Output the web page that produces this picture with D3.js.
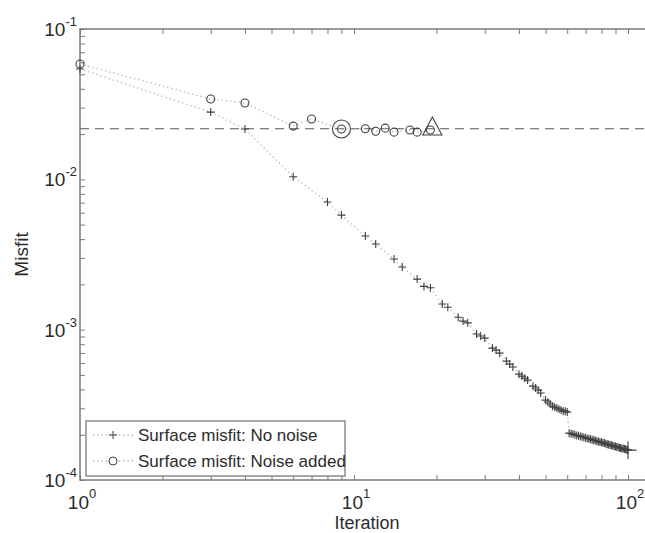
<!DOCTYPE html>
<html>
<head>
<meta charset="utf-8">
<script src="https://cdn.jsdelivr.net/npm/d3@7"></script>
<style>
  body { margin: 0; background: #fff; }
  text { font-family: Arial, "Liberation Sans", Helvetica, sans-serif; fill: #2b2b2b; }
</style>
</head>
<body>
<div id="chart-div"></div>
<script>
// values (iteration, misfit)
const iterNoNoise = [1, 3, 4, 6, 8, 9, 11, 12, 14, 15, 17, 18, 19, 21, 22, 24, 25, 26, 28, 29, 30,
  32, 33, 34, 36, 37, 38, 40, 41, 42, 43, 45, 46, 47, 48, 50, 51, 52, 53, 54, 55, 56, 57, 58, 59, 60,
  61, 62, 63, 64, 65, 66, 67, 68, 69, 70, 71, 72, 73, 74, 75, 76, 77, 78, 79, 80,
  81, 82, 83, 84, 85, 86, 87, 88, 89, 90, 91, 92, 93, 94, 95, 96, 97, 98, 99, 100]
const misfitNoNoise = [0.0542, 0.0280, 0.0216, 0.0104, 0.00706, 0.00578, 0.00420, 0.00371, 0.00295, 0.00261,
  0.00217, 0.00194, 0.00190, 0.00148, 0.00141, 0.00121, 0.00114, 0.00111, 0.000935, 0.000907, 0.000879,
  0.000754, 0.000731, 0.000698, 0.000618, 0.000590, 0.000564, 0.000506, 0.000491, 0.000476, 0.000462,
  0.000421, 0.000409, 0.000396, 0.000379, 0.000340, 0.000330, 0.000320, 0.000310, 0.000305, 0.000301,
  0.000296, 0.000292, 0.000287, 0.000287, 0.000283,
  0.000205, 0.000203, 0.000202, 0.000200, 0.000198, 0.000197, 0.000195, 0.000194, 0.000192, 0.000191,
  0.000189, 0.000188, 0.000187, 0.000185, 0.000184, 0.000183, 0.000181, 0.000180, 0.000179, 0.000178,
  0.000177, 0.000176, 0.000174, 0.000173, 0.000172, 0.000171, 0.000170, 0.000169, 0.000168, 0.000167,
  0.000166, 0.000165, 0.000164, 0.000163, 0.000162, 0.000162, 0.000161, 0.000160, 0.000159, 0.000158]

const iterNoise = [1, 3, 4, 6, 7, 9, 11, 12, 13, 14, 16, 17, 19]
const misfitNoise = [0.0585, 0.0342, 0.0322, 0.0226, 0.0252, 0.0216, 0.0217, 0.0209, 0.0219, 0.0206,
  0.0213, 0.0206, 0.0213]

const noiseLevel = 0.0217
const circledIter = 9        // big circle
const triangleIter = 19      // triangle marker
const lastIter = 100         // big plus

const xMajor = [1, 10, 100]
const yMajor = [1e-4, 1e-3, 1e-2, 1e-1]
const legendLabels = ["Surface misfit: No noise", "Surface misfit: Noise added"]
const xLabel = "Iteration"
const yLabel = "Misfit"

class MisfitChart {
  constructor() {
    //********** CONSTANTS **********
    this.WIDTH = 645
    this.HEIGHT = 533
    this.LEFT = 80
    this.TOP = 29
    this.BOTTOM = 480
    this.BOX_RIGHT = 654
    this.AXIS_COLOR = "#7a7a7a"
    this.MARK_COLOR = "#404040"
    this.LINE_COLOR = "#b4b4b4"

    this.svg = d3.select("#chart-div").append("svg")
      .attr("width", this.WIDTH)
      .attr("height", this.HEIGHT)

    this.x = d3.scaleLog().domain([1, 100]).range([this.LEFT, 628])
    this.y = d3.scaleLog().domain([1e-4, 1e-1]).range([this.BOTTOM, this.TOP])

    this.drawAxes()
    this.drawData()
    this.drawLegend()
  }

  drawAxes() {
    const that = this
    const yt = this.y.ticks()

    // inner ticks on bottom, top and left
    const bottom = this.svg.append("g")
      .attr("transform", `translate(0,${this.BOTTOM})`)
      .call(d3.axisBottom(this.x).tickValues(this.x.ticks()).tickSize(-5).tickFormat(""))
    const top = this.svg.append("g")
      .attr("transform", `translate(0,${this.TOP})`)
      .call(d3.axisTop(this.x).tickValues(this.x.ticks()).tickSize(-5).tickFormat(""))
    const left = this.svg.append("g")
      .attr("transform", `translate(${this.LEFT},0)`)
      .call(d3.axisLeft(this.y).tickValues(yt).tickSize(-5).tickFormat(""))
    for (let g of [bottom, top, left]) {
      g.select(".domain").remove()
      g.selectAll("line").attr("stroke", this.AXIS_COLOR).attr("stroke-width", 1)
    }

    // box
    this.svg.append("path")
      .attr("d", `M${this.BOX_RIGHT},${this.TOP}H${this.LEFT}V${this.BOTTOM}H${this.BOX_RIGHT}`)
      .attr("fill", "none")
      .attr("stroke", this.AXIS_COLOR)
      .attr("stroke-width", 1.5)

    // tick labels 10^n
    const expOf = v => Math.round(Math.log10(v))
    const xl = this.svg.selectAll(".xlab").data(xMajor).enter().append("text")
      .attr("class", "xlab")
      .attr("x", d => that.x(d) + 2)
      .attr("y", 509)
      .attr("text-anchor", "middle")
      .style("font-size", "19px")
    xl.append("tspan").text("10")
    xl.append("tspan").attr("dy", -11).style("font-size", "13px").text(d => expOf(d))

    const yl = this.svg.selectAll(".ylab").data(yMajor).enter().append("text")
      .attr("class", "ylab")
      .attr("x", 77)
      .attr("y", d => that.y(d) + 7)
      .attr("text-anchor", "end")
      .style("font-size", "19px")
    yl.append("tspan").text("10")
    yl.append("tspan").attr("dy", -10).style("font-size", "13px").text(d => expOf(d))

    this.svg.append("text")
      .attr("x", (this.LEFT + this.BOX_RIGHT) / 2)
      .attr("y", 529)
      .attr("text-anchor", "middle")
      .style("font-size", "18px")
      .text(xLabel)

    this.svg.append("text")
      .attr("transform", `translate(28,${(this.TOP + this.BOTTOM) / 2}) rotate(-90)`)
      .attr("text-anchor", "middle")
      .style("font-size", "19px")
      .text(yLabel)
  }

  drawData() {
    const that = this
    const plot = this.svg.append("g")

    // noise level
    plot.append("line")
      .attr("x1", this.LEFT).attr("x2", this.BOX_RIGHT)
      .attr("y1", this.y(noiseLevel)).attr("y2", this.y(noiseLevel))
      .attr("stroke", "#555")
      .attr("stroke-width", 1.2)
      .attr("stroke-dasharray", "9,6")

    const noNoise = iterNoNoise.map((d, i) => ({ it: d, v: misfitNoNoise[i] }))
    const noise = iterNoise.map((d, i) => ({ it: d, v: misfitNoise[i] }))

    const line = d3.line().x(d => that.x(d.it)).y(d => that.y(d.v))

    for (let series of [noNoise, noise]) {
      plot.append("path")
        .datum(series)
        .attr("d", line)
        .attr("fill", "none")
        .attr("stroke", this.LINE_COLOR)
        .attr("stroke-width", 1.3)
        .attr("stroke-dasharray", "1.3,3")
    }

    plot.selectAll(".plus").data(noNoise).enter().append("path")
      .attr("class", "plus")
      .attr("transform", d => `translate(${that.x(d.it)},${that.y(d.v)})`)
      .attr("d", "M-4,0H4M0,-4V4")
      .attr("stroke", this.MARK_COLOR)
      .attr("stroke-width", 1.1)

    plot.selectAll(".circ").data(noise).enter().append("circle")
      .attr("class", "circ")
      .attr("cx", d => that.x(d.it))
      .attr("cy", d => that.y(d.v))
      .attr("r", 4)
      .attr("fill", "none")
      .attr("stroke", this.MARK_COLOR)
      .attr("stroke-width", 1.1)

    // highlighted points
    const circled = noise.find(d => d.it == circledIter)
    plot.append("circle")
      .attr("cx", this.x(circled.it)).attr("cy", this.y(circled.v))
      .attr("r", 9)
      .attr("fill", "none")
      .attr("stroke", this.MARK_COLOR)
      .attr("stroke-width", 1.1)

    const tri = noise.find(d => d.it == triangleIter)
    plot.append("path")
      .attr("transform", `translate(${this.x(tri.it) + 2},${this.y(tri.v) - 1})`)
      .attr("d", "M0,-12L9.5,6L-9.5,6Z")
      .attr("fill", "none")
      .attr("stroke", this.MARK_COLOR)
      .attr("stroke-width", 1.1)

    const last = noNoise.find(d => d.it == lastIter)
    plot.append("path")
      .attr("transform", `translate(${this.x(last.it)},${this.y(last.v)})`)
      .attr("d", "M-8.5,0H8.5M0,-9V9")
      .attr("stroke", this.MARK_COLOR)
      .attr("stroke-width", 1.1)
  }

  drawLegend() {
    const lg = this.svg.append("g")
    lg.append("rect")
      .attr("x", 86).attr("y", 421)
      .attr("width", 259).attr("height", 55)
      .attr("fill", "#fff")
      .attr("stroke", this.AXIS_COLOR)
      .attr("stroke-width", 1.3)

    const rows = lg.selectAll(".row").data(legendLabels).enter().append("g")
      .attr("class", "row")
      .attr("transform", (d, i) => `translate(0,${435 + i * 26})`)

    rows.append("line")
      .attr("x1", 93).attr("x2", 133)
      .attr("stroke", this.LINE_COLOR)
      .attr("stroke-width", 1.3)
      .attr("stroke-dasharray", "1.3,3")

    rows.filter((d, i) => i == 0).append("path")
      .attr("transform", "translate(113,0)")
      .attr("d", "M-4,0H4M0,-4V4")
      .attr("stroke", this.MARK_COLOR)
    rows.filter((d, i) => i == 1).append("circle")
      .attr("cx", 113).attr("r", 4)
      .attr("fill", "#fff")
      .attr("stroke", this.MARK_COLOR)

    rows.append("text")
      .attr("x", 138)
      .attr("y", 6)
      .style("font-size", "17px")
      .text(d => d)
  }
}

new MisfitChart()
</script>
</body>
</html>
